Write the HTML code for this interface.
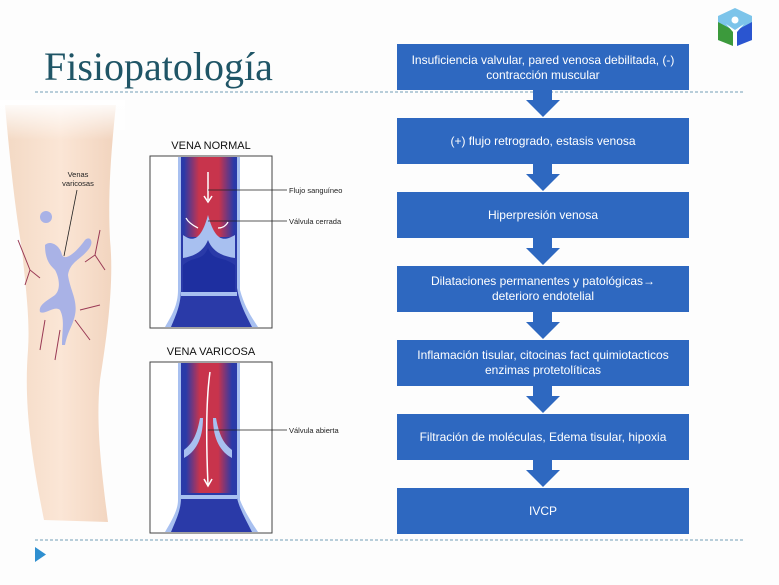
<!DOCTYPE html>
<html><head><meta charset="utf-8"><style>
body{margin:0;width:779px;height:580px;background:#fdfdfd;overflow:hidden;font-family:"Liberation Sans",sans-serif}
</style></head><body>
<svg width="779" height="580" viewBox="0 0 779 580" xmlns="http://www.w3.org/2000/svg">
<defs>
<linearGradient id="leg" x1="0" x2="1" y1="0" y2="0">
<stop offset="0" stop-color="#f3d9c4"/><stop offset="0.5" stop-color="#fbe6d6"/><stop offset="1" stop-color="#f1d3bd"/></linearGradient>
<linearGradient id="legv" x1="0" x2="0" y1="0" y2="1">
<stop offset="0" stop-color="#fff" stop-opacity="1"/><stop offset="1" stop-color="#fff" stop-opacity="0"/></linearGradient>
<linearGradient id="red" x1="0" x2="1"><stop offset="0" stop-color="#2a3aa8"/><stop offset="0.3" stop-color="#c8344c"/><stop offset="0.7" stop-color="#c8344c"/><stop offset="1" stop-color="#2a3aa8"/></linearGradient>
</defs>
<text x="44" y="80" font-family="Liberation Serif,serif" font-size="40" fill="#1f5566">Fisiopatología</text>
<line x1="35" y1="92" x2="745" y2="92" stroke="#8fb3c6" stroke-width="1.3" stroke-dasharray="3,2"/>
<line x1="35" y1="540" x2="745" y2="540" stroke="#8fb3c6" stroke-width="1.3" stroke-dasharray="3,2"/>
<polygon points="35,547 46,554.5 35,562" fill="#2f8fd0"/>
<polygon points="735,8 752,16 752,40 735,46 718,40 718,16" fill="#7cc4ea"/>
<polygon points="718,22 733,30 733,46 718,40" fill="#3c9a3c"/>
<polygon points="752,22 737,30 737,46 752,40" fill="#2a55d0"/>
<circle cx="735" cy="20" r="3.5" fill="#fff"/>
<path d="M726,24 L735,30 L744,24 L737,32 L737,46 L733,46 L733,32 Z" fill="#fff"/>
<path d="M5,105 C10,160 14,200 22,250 C26,290 30,320 28,350 C24,400 30,450 44,520 L108,522 C100,460 96,420 100,380 C108,330 114,280 110,240 C108,200 110,160 116,105 Z" fill="url(#leg)"/>
<rect x="0" y="100" width="125" height="40" fill="url(#legv)"/>
<g fill="#a9b2e6">
<circle cx="46" cy="217" r="6"/>
<path d="M45,245 C50,240 60,245 62,255 C66,262 78,250 85,240 C90,235 95,242 88,250 C80,260 70,262 68,275 C70,290 78,300 75,315 C72,328 68,330 65,345 L62,345 C62,330 65,320 60,310 C55,305 45,315 40,312 C38,305 48,300 55,295 C62,288 58,275 55,270 C50,265 45,260 45,245 Z"/>
</g>
<g stroke="#9a3a55" stroke-width="1" fill="none">
<path d="M18,240 L30,270 L40,278 M30,270 L25,285"/>
<path d="M100,230 L95,255 L85,262 M95,255 L105,270"/>
<path d="M45,320 L40,350 M60,330 L55,360"/>
<path d="M75,320 L90,340 M80,310 L100,305"/>
</g>
<line x1="77" y1="190" x2="64" y2="256" stroke="#222" stroke-width="0.8"/>
<text x="78" y="177" font-size="7.5" text-anchor="middle" fill="#222">Venas</text>
<text x="78" y="186" font-size="7.5" text-anchor="middle" fill="#222">varicosas</text>
<text x="211" y="149" font-size="11" text-anchor="middle" fill="#111">VENA NORMAL</text>
<rect x="150" y="156" width="122" height="172" fill="#fff" stroke="#444" stroke-width="1"/>
<path d="M178,157 L240,157 L240,290 C244,305 250,315 258,327 L165,327 C172,315 178,305 178,290 Z" fill="#a8c0f0"/>
<path d="M181,157 L237,157 L237,288 C240,305 246,315 252,327 L171,327 C176,315 181,305 181,288 Z" fill="#2a3aa8"/>
<rect x="184" y="157" width="50" height="80" fill="url(#red)"/>
<path d="M183,235 C190,240 200,245 208,215 C216,245 226,240 235,235 L235,258 C220,256 212,250 208,240 C204,250 196,256 183,258 Z" fill="#a8c0f0"/>
<path d="M183,265 C195,255 202,262 208,248 C214,262 221,255 235,265 L235,292 L183,292 Z" fill="#1e2fa0"/>
<rect x="181" y="292" width="56" height="4" fill="#a8c0f0"/>
<line x1="208" y1="172" x2="208" y2="200" stroke="#fff" stroke-width="1.5"/>
<path d="M204,196 L208,202 L212,196" stroke="#fff" fill="none" stroke-width="1.5"/>
<path d="M198,228 C192,225 188,222 186,218 M228,222 C226,226 222,228 218,228" stroke="#fff" fill="none" stroke-width="1.3"/>
<line x1="208" y1="190" x2="287" y2="190" stroke="#222" stroke-width="0.8"/>
<line x1="208" y1="221" x2="287" y2="221" stroke="#222" stroke-width="0.8"/>
<text x="289" y="193" font-size="7.5" fill="#222">Flujo sanguíneo</text>
<text x="289" y="224" font-size="7.5" fill="#222">Válvula cerrada</text>
<text x="211" y="355" font-size="11" text-anchor="middle" fill="#111">VENA VARICOSA</text>
<rect x="150" y="362" width="122" height="171" fill="#fff" stroke="#444" stroke-width="1"/>
<path d="M178,363 L240,363 L240,500 C244,510 250,520 258,532 L165,532 C172,520 178,510 178,500 Z" fill="#a8c0f0"/>
<path d="M181,363 L237,363 L237,498 C240,510 246,520 252,532 L171,532 C176,520 181,510 181,498 Z" fill="#2a3aa8"/>
<rect x="186" y="363" width="46" height="130" fill="url(#red)"/>
<path d="M200,418 C196,440 190,445 184,450 L184,458 C195,452 203,440 203,418 Z M216,418 C220,440 226,445 232,450 L232,458 C221,452 213,440 213,418 Z" fill="#a8c0f0"/>
<rect x="181" y="495" width="56" height="4" fill="#a8c0f0"/>
<path d="M210,372 C206,400 206,440 208,485" stroke="#fff" stroke-width="1.5" fill="none"/>
<path d="M204,479 L208,486 L212,479" stroke="#fff" fill="none" stroke-width="1.5"/>
<line x1="208" y1="430" x2="287" y2="430" stroke="#222" stroke-width="0.8"/>
<text x="289" y="433" font-size="7.5" fill="#222">Válvula abierta</text>
<g fill="#2e68c0">
<rect x="397" y="44" width="292" height="46"/>
<rect x="397" y="118" width="292" height="46"/>
<rect x="397" y="192" width="292" height="46"/>
<rect x="397" y="266" width="292" height="46"/>
<rect x="397" y="340" width="292" height="46"/>
<rect x="397" y="414" width="292" height="46"/>
<rect x="397" y="488" width="292" height="46"/>
<path d="M533,90 L552,90 L552,100 L560,100 L543,117 L526,100 L533,100 Z"/>
<path d="M533,164 L552,164 L552,174 L560,174 L543,191 L526,174 L533,174 Z"/>
<path d="M533,238 L552,238 L552,248 L560,248 L543,265 L526,248 L533,248 Z"/>
<path d="M533,312 L552,312 L552,322 L560,322 L543,339 L526,322 L533,322 Z"/>
<path d="M533,386 L552,386 L552,396 L560,396 L543,413 L526,396 L533,396 Z"/>
<path d="M533,460 L552,460 L552,470 L560,470 L543,487 L526,470 L533,470 Z"/>
</g>
<g fill="#fff" font-size="12" text-anchor="middle">
<text x="543" y="64">Insuficiencia valvular, pared venosa debilitada, (-)</text>
<text x="543" y="79">contracción muscular</text>
<text x="543" y="145">(+) flujo retrogrado, estasis venosa</text>
<text x="543" y="219">Hiperpresión venosa</text>
<text x="543" y="285">Dilataciones permanentes y patológicas→</text>
<text x="543" y="300">deterioro endotelial</text>
<text x="543" y="359">Inflamación tisular, citocinas fact quimiotacticos</text>
<text x="543" y="374">enzimas protetolíticas</text>
<text x="543" y="441">Filtración de moléculas, Edema tisular, hipoxia</text>
<text x="543" y="515">IVCP</text>
</g>
</svg>
</body></html>
